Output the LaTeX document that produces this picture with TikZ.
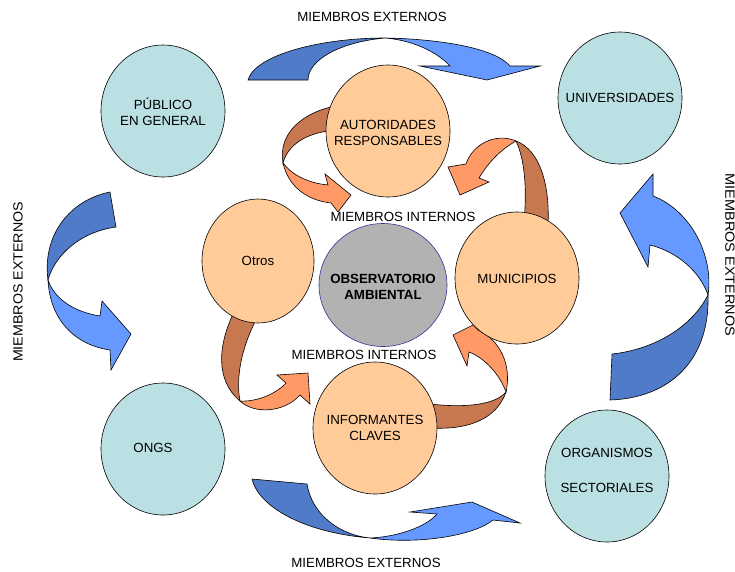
\documentclass[tikz,border=0pt]{standalone}
\usepackage{fontspec}
\setmainfont{Liberation Sans}
\usetikzlibrary{shapes.geometric}
\definecolor{cielo}{RGB}{187,224,227}
\definecolor{durazno}{RGB}{255,204,153}
\definecolor{gris}{RGB}{178,178,178}
\definecolor{borde}{RGB}{51,51,153}
\definecolor{azulosc}{RGB}{80,123,200}
\definecolor{azulcla}{RGB}{102,153,255}
\definecolor{naranjaosc}{RGB}{200,120,80}
\definecolor{naranjacla}{RGB}{255,153,102}

\begin{document}
\begin{tikzpicture}[x=1pt,y=-1pt,line width=0.6pt,
        font=\fontsize{13.3}{16.5}\selectfont,
        externo/.style={ellipse,draw,fill=cielo,minimum width=124pt,minimum height=132pt},
        interno/.style={ellipse,draw,fill=durazno,minimum width=124pt,minimum height=132pt},
        rotulo/.style={align=center,inner sep=0pt},
        fondoazul/.style={draw,fill=azulosc},
        frenteazul/.style={draw,fill=azulcla},
        fondonar/.style={draw,fill=naranjaosc},
        frentenar/.style={draw,fill=naranjacla}]
                \useasboundingbox(0,0)rectangle(735,571);
                % flechas externas
                \draw[frenteazul](385,38)..controls(440,39)and(495,48)..(510,66)--(540,66)--(487,80)--(420,66)--(450,66)..controls(435,50)and(410,40)..(385,38)--cycle;
                \draw[fondoazul](248,80)..controls(255,55)and(320,38)..(385,38)..controls(340,42)and(308,60)..(308,80)--cycle;
                \draw[frenteazul](48,280)..controls(50,320)and(75,345)..(110,350)--(111,370)--(131,334)--(102,301)--(100,316)..controls(75,312)and(55,300)..(48,280)--cycle;
                \draw[fondoazul](48,280)..controls(42,235)and(70,200)..(110,192)--(116,227)..controls(80,232)and(55,255)..(48,280)--cycle;
                \draw[frenteazul](708,295)..controls(714,255)and(690,210)..(653,196)--(653,174)--(620,213)--(648,267)--(650,245)..controls(678,252)and(700,272)..(708,295)--cycle;
                \draw[fondoazul](708,295)..controls(710,360)and(670,398)..(610,400)--(612,354)..controls(650,350)and(690,330)..(708,295)--cycle;
                \draw[frenteazul](370,538)..controls(420,545)and(475,535)..(493,520)--(520,523)--(472,502)--(410,512)--(437,514)..controls(425,528)and(395,537)..(370,538)--cycle;
                \draw[fondoazul](370,538)..controls(300,532)and(258,505)..(252,479)--(307,484)..controls(312,515)and(340,535)..(370,538)--cycle;
                % flechas internas
                \draw[frentenar](283,163)..controls(288,185)and(305,200)..(331,203)--(338,212)--(351,195)--(325,174)--(328,185)..controls(308,183)and(292,175)..(283,163)--cycle;
                \draw[fondonar](283,163)..controls(278,135)and(300,112)..(340,105)--(335,130)..controls(305,133)and(288,145)..(283,163)--cycle;
                \draw[frentenar](516,141)..controls(495,132)and(472,145)..(466,164)--(448,167)--(460,195)--(489,182)--(479,178)..controls(488,163)and(500,150)..(516,141)--cycle;
                \draw[fondonar](516,141)..controls(540,150)and(550,185)..(548,225)--(524,222)..controls(527,190)and(525,160)..(516,141)--cycle;
                \draw[frentenar](240,401)..controls(255,415)and(285,412)..(300,395)--(310,404)--(308,373)--(277,375)--(286,383)..controls(275,395)and(255,402)..(240,401)--cycle;
                \draw[fondonar](240,401)..controls(215,380)and(218,345)..(234,312)--(257,318)..controls(240,350)and(236,380)..(240,401)--cycle;
                \draw[frentenar](506,392)..controls(512,365)and(500,340)..(478,330)--(473,325)--(453,335)--(467,366)--(469,352)..controls(485,358)and(500,375)..(506,392)--cycle;
                \draw[fondonar](506,392)..controls(497,418)and(470,430)..(432,428)--(430,404)..controls(465,408)and(495,405)..(506,392)--cycle;
                % circulos
                \node[externo](publico)at(163,111){};
                \node[externo](universidades)at(620,98){};
                \node[externo](ongs)at(163,449){};
                \node[externo](organismos)at(607,476){};
                \node[interno](autoridades)at(388,131){};
                \node[interno,minimum width=112pt,minimum height=124pt](otros)at(258,261){};
                \node[interno](municipios)at(517,278){};
                \node[interno](informantes)at(375,428){};
                \node[ellipse,draw=borde,fill=gris,minimum width=128pt,minimum height=123pt](observatorio)at(383,285){};
                \node[rotulo](publico-t)at(163,112){PÚBLICO\\EN GENERAL};
                \node[rotulo](universidades-t)at(620,98){UNIVERSIDADES};
                \node[rotulo](ongs-t)at(153,448){ONGS};
                \node[rotulo](organismos-t)at(607,470){ORGANISMOS\\[18.5pt]SECTORIALES};
                \node[rotulo](autoridades-t)at(388,133){AUTORIDADES\\RESPONSABLES};
                \node[rotulo](otros-t)at(258,261){Otros};
                \node[rotulo](municipios-t)at(517,279){MUNICIPIOS};
                \node[rotulo](informantes-t)at(375,428){INFORMANTES\\CLAVES};
                \node[rotulo](observatorio-t)at(383,287){\textbf{OBSERVATORIO}\\\textbf{AMBIENTAL}};
                % rotulos
                \node[rotulo](ext-arriba)at(372,17){MIEMBROS EXTERNOS};
                \node[rotulo](ext-abajo)at(366,563){MIEMBROS EXTERNOS};
                \node[rotulo,rotate=90](ext-izq)at(18,282){\scalebox{1.07}[1]{MIEMBROS EXTERNOS}};
                \node[rotulo,rotate=-90](ext-der)at(730,255){\scalebox{1.09}[1]{MIEMBROS EXTERNOS}};
                \node[rotulo](int-arriba)at(403,217){MIEMBROS INTERNOS};
                \node[rotulo](int-abajo)at(364,355){MIEMBROS INTERNOS};
            \end{tikzpicture}
\end{document}
